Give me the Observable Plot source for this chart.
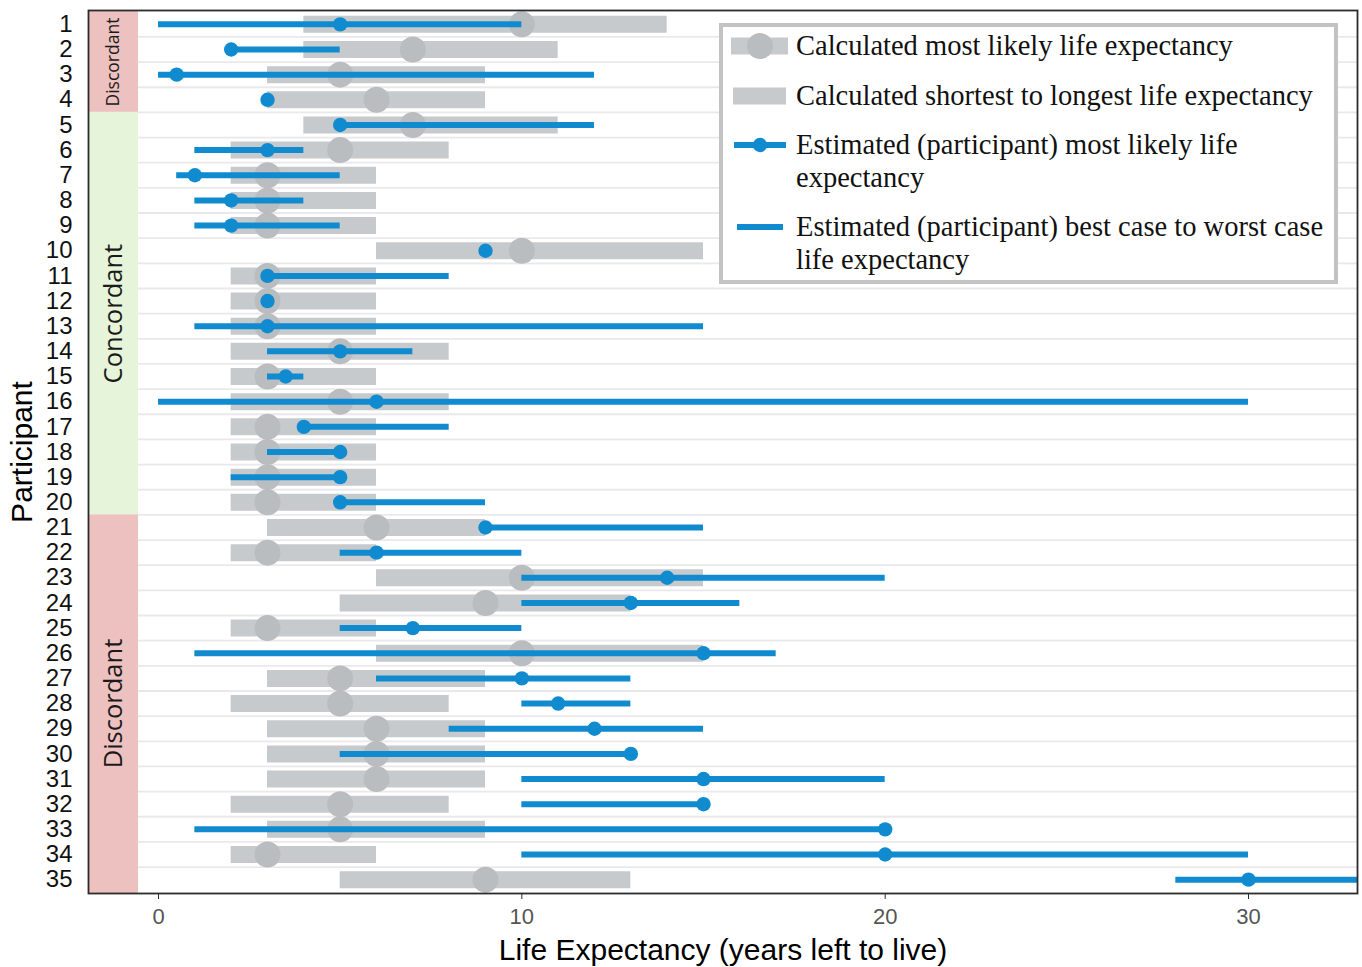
<!DOCTYPE html>
<html>
<head>
<meta charset="utf-8">
<script src="https://cdn.jsdelivr.net/npm/d3@7"></script>
<script src="https://cdn.jsdelivr.net/npm/@observablehq/plot@0.6"></script>
<style>
  html, body { margin: 0; padding: 0; background: #fff; }
  #chart { position: relative; width: 1362px; height: 967px; }
</style>
</head>
<body>
<div id="chart"></div>
<script>
// ---------- data ----------
const participants = [1,2,3,4,5,6,7,8,9,10,11,12,13,14,15,16,17,18,19,20,21,22,23,24,25,26,27,28,29,30,31,32,33,34,35];
const calcLow  = [4,4,3,3,4,2,2,2,2,6,2,2,2,2,2,2,2,2,2,2,3,2,6,5,2,6,3,2,3,3,3,2,3,2,5];
const calcHigh = [14,11,9,9,11,8,6,6,6,15,6,6,6,8,6,8,6,6,6,6,9,6,15,13,6,15,9,8,9,9,9,8,9,6,13];
const calcML   = [10,7,5,6,7,5,3,3,3,10,3,3,3,5,3,5,3,3,3,3,6,3,10,9,3,10,5,5,6,6,6,5,5,3,9];
const estLow   = [0,2,0,null,5,1,0.5,1,1,null,3,null,1,3,3,0,4,3,2,5,9,5,10,10,5,1,6,10,8,5,10,10,1,10,28];
const estHigh  = [10,5,12,null,12,4,5,4,5,null,8,null,15,7,4,30,8,5,5,9,15,10,20,16,10,17,13,13,15,13,20,15,20,30,35];
const estML    = [5,2,0.5,3,5,3,1,2,2,9,3,3,3,5,3.5,6,4,5,5,5,9,6,14,13,7,15,10,11,12,13,15,15,20,20,30];
const groupLabels = ["Discordant", "Concordant", "Discordant"];
const groupFirst  = [1, 5, 21];
const groupLast   = [4, 20, 35];
const xTicks = [0, 10, 20, 30];
const xLabel = "Life Expectancy (years left to live)";
const yLabel = "Participant";
const legendLabels = [
  ["Calculated most likely life expectancy"],
  ["Calculated shortest to longest life expectancy"],
  ["Estimated (participant) most likely life", "expectancy"],
  ["Estimated (participant) best case to worst case", "life expectancy"]
];

// ---------- styles ----------
const GRAY_BAR = "#c6cacc";
const GRAY_DOT = "#b9bdbf";
const BLUE = "#108bcf";
const PINK = "#edc1bf";
const GREEN = "#e6f4d9";
const GRID = "#ebe8ec";

const xDomain = [-1.927, 33.0];
const yDomain = [35.55, 0.45];
const stripRight = -0.55;

const rows = participants.map((p, i) => ({
  p, cl: calcLow[i], ch: calcHigh[i], cm: calcML[i],
  el: estLow[i], eh: estHigh[i], em: estML[i]
}));
const groups = groupLabels.map((label, i) => ({
  label,
  y1: i === 0 ? yDomain[1] : groupFirst[i] - 0.5,
  y2: i === groupLabels.length - 1 ? yDomain[0] : groupLast[i] + 0.5,
  mid: (groupFirst[i] + groupLast[i]) / 2,
  size: (groupLast[i] - groupFirst[i] + 1) < 8 ? 17.5 : 25.5,
  fill: label === "Concordant" ? GREEN : PINK
}));
const boundaries = participants.slice(0, -1).map(p => p + 0.5);

const chart = Plot.plot({
  width: 1362,
  height: 967,
  marginTop: 10,
  marginBottom: 74,
  marginLeft: 88,
  marginRight: 5,
  style: { fontFamily: "'Liberation Sans', Arial, sans-serif", background: "#fff", color: "#000" },
  x: { domain: xDomain },
  y: { domain: yDomain },
  marks: [
    Plot.rect(groups, { x1: xDomain[0], x2: stripRight, y1: "y1", y2: "y2", fill: "fill" }),
    Plot.ruleY(boundaries, { x1: stripRight, x2: xDomain[1], stroke: GRID, strokeWidth: 1.8 }),
    Plot.ruleY(rows, { y: "p", x1: "cl", x2: "ch", stroke: GRAY_BAR, strokeWidth: 17 }),
    Plot.dot(rows, { y: "p", x: "cm", r: 13, fill: GRAY_DOT }),
    Plot.ruleY(rows.filter(d => d.el != null), { y: "p", x1: "el", x2: "eh", stroke: BLUE, strokeWidth: 6, clip: true }),
    Plot.dot(rows, { y: "p", x: "em", r: 7.2, fill: BLUE }),
    Plot.frame({ stroke: "#2b2b2b", strokeWidth: 1.8 }),
    Plot.axisY({ ticks: participants, tickSize: 0, tickPadding: 16, fontSize: 24, tickFormat: d => d, label: null, fill: "#111" }),
    Plot.axisX({ ticks: xTicks, tickSize: 6, tickPadding: 9, fontSize: 22, label: null, stroke: "#2b2b2b", fill: "#555" }),
    Plot.text(groups, { x: (xDomain[0] + stripRight) / 2, y: "mid", text: "label", rotate: -90, fontSize: "size",
      fill: "#1a1a1a", fontFamily: "'Open Sans', sans-serif", lineAnchor: "middle", textAnchor: "middle" }),
    Plot.text([xLabel], { text: d => d, frameAnchor: "bottom", dy: 57, fontSize: 30, fill: "#000", lineAnchor: "middle", textAnchor: "middle" }),
    Plot.text([yLabel], { text: d => d, frameAnchor: "left", dx: -66, rotate: -90, fontSize: 30, fill: "#000", lineAnchor: "middle", textAnchor: "middle" })
  ]
});
document.getElementById("chart").appendChild(chart);

// ---------- legend (inside plot, top right) ----------
const svg = d3.select(chart);
const lg = svg.append("g").attr("class", "legend").attr("text-anchor", "start");
lg.append("rect").attr("x", 721).attr("y", 25).attr("width", 615).attr("height", 257)
  .attr("fill", "#fff").attr("stroke", "#c3c3c3").attr("stroke-width", 4);
const itemY = [46, 96, 145, 227];
// swatch 1: gray bar + gray circle
lg.append("line").attr("x1", 731).attr("x2", 788).attr("y1", itemY[0]).attr("y2", itemY[0])
  .attr("stroke", GRAY_BAR).attr("stroke-width", 17);
lg.append("circle").attr("cx", 760).attr("cy", itemY[0]).attr("r", 13).attr("fill", GRAY_DOT);
// swatch 2: gray bar
lg.append("line").attr("x1", 733).attr("x2", 786).attr("y1", itemY[1]).attr("y2", itemY[1])
  .attr("stroke", GRAY_BAR).attr("stroke-width", 17);
// swatch 3: blue line + dot
lg.append("line").attr("x1", 734).attr("x2", 786).attr("y1", itemY[2]).attr("y2", itemY[2])
  .attr("stroke", BLUE).attr("stroke-width", 6);
lg.append("circle").attr("cx", 760).attr("cy", itemY[2]).attr("r", 7.2).attr("fill", BLUE);
// swatch 4: blue line
lg.append("line").attr("x1", 737).attr("x2", 783).attr("y1", itemY[3]).attr("y2", itemY[3])
  .attr("stroke", BLUE).attr("stroke-width", 6);
legendLabels.forEach((lines, i) => {
  const t = lg.append("text").attr("x", 796).attr("y", itemY[i]).attr("text-anchor", "start")
    .attr("font-family", "'Liberation Serif', 'Times New Roman', serif").attr("font-size", 28.5).attr("fill", "#111");
  lines.forEach((s, j) => {
    t.append("tspan").attr("x", 796).attr("y", itemY[i] + j * 33).attr("dy", "0.33em").text(s);
  });
});
</script>
</body>
</html>
